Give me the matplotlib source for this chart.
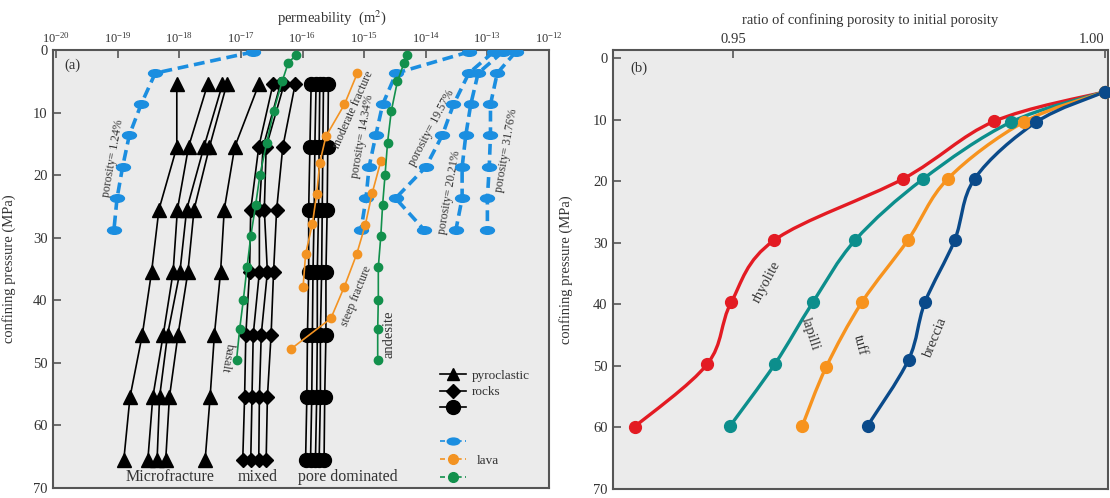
import numpy as np
import matplotlib.pyplot as plt
from matplotlib.path import Path
from matplotlib.patches import PathPatch
from matplotlib.transforms import Affine2D

plt.rcParams['font.family'] = ['Liberation Serif', 'DejaVu Serif']
plt.rcParams['mathtext.fontset'] = 'stix'

# ---------------- (a) permeability vs confining pressure ----------------
# pyroclastic rocks: log10(k) at each confining pressure
p_pyro = [5.5, 15.5, 25.5, 35.5, 45.5, 55.5, 65.5]
micro = [
    [-18.04, -18.04, -18.33, -18.45, -18.60, -18.80, -18.90],
    [-17.54, -17.85, -18.03, -18.10, -18.26, -18.43, -18.51],
    [-17.30, -17.60, -17.88, -17.99, -18.19, -18.32, -18.36],
    [-17.23, -17.51, -17.76, -17.86, -18.02, -18.16, -18.22],
    [-16.71, -17.10, -17.27, -17.33, -17.43, -17.50, -17.58],
]
mixed = [
    [-16.48, -16.71, -16.84, -16.86, -16.92, -16.94, -16.97],
    [-16.36, -16.64, -16.70, -16.70, -16.80, -16.82, -16.84],
    [-16.30, -16.59, -16.62, -16.57, -16.67, -16.70, -16.71],
    [-16.12, -16.32, -16.42, -16.47, -16.51, -16.57, -16.59],
]
pore = [
    [-15.86, -15.88, -15.90, -15.90, -15.92, -15.93, -15.95],
    [-15.78, -15.80, -15.81, -15.83, -15.84, -15.85, -15.87],
    [-15.72, -15.73, -15.74, -15.76, -15.76, -15.77, -15.79],
    [-15.66, -15.67, -15.68, -15.69, -15.71, -15.71, -15.73],
    [-15.58, -15.59, -15.60, -15.62, -15.62, -15.64, -15.65],
]

# lava, blue (porosity series)
p_blue = [0.3, 3.7, 8.7, 13.6, 18.7, 23.7, 28.7]
blue = {
    '1.24':  [-16.80, -18.39, -18.62, -18.81, -18.92, -19.01, -19.06],
    '14.34': [-13.30, -14.48, -14.70, -14.81, -14.92, -14.97, -15.05],
    '19.57': [-12.90, -13.30, -13.55, -13.73, -14.00, -14.49, -14.03],
    '20.21': [-12.75, -13.15, -13.27, -13.35, -13.41, -13.41, -13.51],
    '31.76': [-12.54, -12.84, -12.95, -12.95, -12.97, -13.00, -13.00],
}
# lava, orange
p_moderate = [3.7, 8.7, 13.8, 18.0, 23.0, 27.8, 32.6, 37.8]
k_moderate = [-15.11, -15.32, -15.62, -15.72, -15.77, -15.84, -15.95, -15.99]
p_steep = [17.8, 22.9, 27.9, 32.6, 37.8, 42.9, 47.8]
k_steep = [-14.73, -14.87, -14.98, -15.12, -15.32, -15.54, -16.19]
# lava, green
p_green = [0.8, 2.0, 5.0, 9.8, 14.8, 19.9, 24.7, 29.8, 34.7, 39.9, 44.6, 49.5]
k_basalt = [-16.10, -16.23, -16.33, -16.47, -16.58, -16.69, -16.76, -16.84,
            -16.90, -16.96, -17.02, -17.07]
k_andesite = [-14.30, -14.35, -14.46, -14.56, -14.62, -14.66, -14.70, -14.73,
              -14.77, -14.77, -14.78, -14.78]

# ---------------- (b) porosity ratio vs confining pressure ----------------
rocks = ['rhyolite', 'lapilli', 'tuff', 'breccia']
p_ratio = {
    'rhyolite': [5.5, 10.3, 19.6, 29.6, 39.7, 49.7, 59.9],
    'lapilli':  [5.5, 10.4, 19.7, 29.6, 39.7, 49.7, 59.7],
    'tuff':     [5.5, 10.4, 19.6, 29.6, 39.7, 50.2, 59.7],
    'breccia':  [5.5, 10.4, 19.6, 29.6, 39.7, 49.0, 59.7],
}
ratio = {
    'rhyolite': [1.000, 0.9851, 0.9729, 0.9555, 0.9497, 0.9465, 0.9367],
    'lapilli':  [1.000, 0.9874, 0.9755, 0.9664, 0.9607, 0.9556, 0.9496],
    'tuff':     [1.000, 0.9891, 0.9789, 0.9735, 0.9673, 0.9625, 0.9593],
    'breccia':  [1.000, 0.9908, 0.9825, 0.9798, 0.9758, 0.9736, 0.9681],
}
colors_b = {'rhyolite': '#e31b23', 'lapilli': '#0c8e8c',
            'tuff': '#f7931e', 'breccia': '#0a4a8a'}

BLUE, ORANGE, GREEN = '#1b8ee0', '#f39322', '#12904c'
TXT = '#333333'

fig = plt.figure(figsize=(11.1, 4.98), dpi=100)
ax1 = fig.add_axes([0.0477, 0.0201, 0.4469, 0.8795])
ax2 = fig.add_axes([0.5523, 0.0181, 0.4462, 0.8815])

for ax in (ax1, ax2):
    ax.set_facecolor('#ebebeb')
    for s in ax.spines.values():
        s.set_color('#555555')
        s.set_linewidth(1.5)

# ---- panel a
for row in micro:
    ax1.plot(10.0 ** np.array(row), p_pyro, color='k', lw=1.2,
             marker='^', ms=9.5, zorder=3)
for row in mixed:
    ax1.plot(10.0 ** np.array(row), p_pyro, color='k', lw=1.2,
             marker='D', ms=7, zorder=3)
for row in pore:
    ax1.plot(10.0 ** np.array(row), p_pyro, color='k', lw=1.2,
             marker='o', ms=10, zorder=3)

ellipse = Path.unit_circle().transformed(Affine2D().scale(1.0, 0.55))
for key, vals in blue.items():
    ax1.plot(10.0 ** np.array(vals), p_blue, color=BLUE, lw=2.6,
             dashes=(3, 1.6), marker=ellipse, ms=10, zorder=4)
ax1.plot(10.0 ** np.array(k_moderate), p_moderate, color=ORANGE,
         lw=1.2, marker='o', ms=6, zorder=5)
ax1.plot(10.0 ** np.array(k_steep), p_steep, color=ORANGE, lw=1.2,
         marker='o', ms=6, zorder=5)
ax1.plot(10.0 ** np.array(k_basalt), p_green, color=GREEN, lw=1.2,
         marker='o', ms=6, zorder=5)
ax1.plot(10.0 ** np.array(k_andesite), p_green, color=GREEN, lw=1.2,
         marker='o', ms=6, zorder=5)

ax1.set_xscale('log')
ax1.set_xlim(10 ** -20.05, 10 ** -12.0)
ax1.set_ylim(70, 0)
ax1.set_xticks([10.0 ** e for e in range(-20, -11)])
ax1.xaxis.set_minor_locator(plt.NullLocator())
ax1.xaxis.tick_top()
ax1.set_yticks(range(0, 71, 10))
ax1.tick_params(axis='x', direction='in', length=6, width=1.2, labelsize=9,
                pad=3, colors='#555555', labelcolor=TXT)
ax1.tick_params(axis='y', direction='in', length=6, width=1.2, labelsize=10.5,
                pad=4, colors='#555555', labelcolor=TXT)
ax1.text(0.5625, 1.073, 'permeability  (m$^{2}$)', transform=ax1.transAxes,
         ha='center', va='center', fontsize=10.5, color=TXT)
ax1.set_ylabel('confining pressure (MPa)', fontsize=10.5, color=TXT)
ax1.yaxis.set_label_coords(-0.075, 0.5)
ax1.text(0.04, 0.966, '(a)', transform=ax1.transAxes, fontsize=10.5,
         ha='center', va='center', color=TXT)

lab = dict(fontsize=8.5, color=TXT, ha='center', va='center',
           rotation_mode='anchor')
ax1.text(10 ** -19.07, 17.3, 'porosity= 1.24%', rotation=80, **lab)
ax1.text(10 ** -15.18, 9.5, 'moderate fracture', rotation=66, **lab)
ax1.text(10 ** -15.02, 13.8, 'porosity= 14.34%', rotation=80, **lab)
ax1.text(10 ** -13.91, 12.4, 'porosity= 19.57%', rotation=62, **lab)
ax1.text(10 ** -13.62, 22.8, 'porosity= 20.21%', rotation=80, **lab)
ax1.text(10 ** -12.69, 16.0, 'porosity= 31.76%', rotation=80, **lab)
ax1.text(10 ** -15.12, 39.3, 'steep fracture', rotation=68, **lab)
ax1.text(10 ** -14.60, 45.4, 'andesite', rotation=90, fontsize=10.5,
         color=TXT, ha='center', va='center')
ax1.text(10 ** -17.22, 49.2, 'basalt', rotation=-100, fontsize=9,
         color=TXT, ha='center', va='center')
grp = dict(fontsize=11.5, color=TXT, ha='center', va='center')
ax1.text(10 ** -18.15, 68.2, 'Microfracture', **grp)
ax1.text(10 ** -16.72, 68.2, 'mixed', **grp)
ax1.text(10 ** -15.27, 68.2, 'pore dominated', **grp)

h_tri = plt.Line2D([], [], color='k', lw=1.2, marker='^', ms=9)
h_dia = plt.Line2D([], [], color='k', lw=1.2, marker='D', ms=7)
h_cir = plt.Line2D([], [], color='k', lw=1.2, marker='o', ms=10)
leg1 = ax1.legend([h_tri, h_dia, h_cir], ['pyroclastic', 'rocks', ''],
                  loc='upper left', bbox_to_anchor=(0.78, 0.27), frameon=False,
                  fontsize=9.5, handlelength=2.0, handletextpad=0.4,
                  labelspacing=0.3, borderpad=0, borderaxespad=0, numpoints=1)
for t in leg1.get_texts():
    t.set_color(TXT)
ax1.add_artist(leg1)
h_bl = plt.Line2D([], [], color=BLUE, lw=1.2, dashes=(3, 2), marker=ellipse, ms=9)
h_or = plt.Line2D([], [], color=ORANGE, lw=1.2, dashes=(3, 2), marker='o', ms=7)
h_gr = plt.Line2D([], [], color=GREEN, lw=1.2, dashes=(3, 2), marker='o', ms=7)
leg2 = ax1.legend([h_bl, h_or, h_gr], ['', 'lava', ''],
                  loc='upper left', bbox_to_anchor=(0.78, 0.118), frameon=False,
                  fontsize=9.5, handlelength=2.0, handletextpad=0.8,
                  labelspacing=0.45, borderpad=0, borderaxespad=0, numpoints=1)
for t in leg2.get_texts():
    t.set_color(TXT)


# ---- panel b: smooth connecting curves (Bezier through the measured points)
def smooth_path(xs, ys):
    pts = np.column_stack([xs, ys])
    ext = np.vstack([pts[0], pts, pts[-1]])
    verts = [pts[0]]
    codes = [Path.MOVETO]
    for i in range(len(pts) - 1):
        p0, p1, p2, p3 = ext[i], ext[i + 1], ext[i + 2], ext[i + 3]
        verts += [p1 + (p2 - p0) / 6.0, p2 - (p3 - p1) / 6.0, p2]
        codes += [Path.CURVE4] * 3
    return Path(verts, codes)


for r in rocks:
    c = colors_b[r]
    ax2.add_patch(PathPatch(smooth_path(ratio[r], p_ratio[r]), fc='none',
                            ec=c, lw=2.4, zorder=3))
    ax2.plot(ratio[r], p_ratio[r], ls='none', marker='o', ms=8.5, color=c,
             zorder=4, clip_on=False)

ax2.set_xlim(0.9338, 1.0005)
ax2.set_ylim(70, -1.3)
ax2.set_xticks([0.95, 1.00])
ax2.set_xticklabels(['0.95', '1.00'])
ax2.xaxis.tick_top()
ax2.set_yticks(range(0, 71, 10))
ax2.tick_params(axis='x', direction='in', length=6, width=1.2, labelsize=10.5,
                pad=3, colors='#555555', labelcolor=TXT)
ax2.tick_params(axis='y', direction='in', length=6, width=1.2, labelsize=10.5,
                pad=4, colors='#555555', labelcolor=TXT)
ax2.get_xticklabels()[-1].set_horizontalalignment('right')
ax2.text(0.52, 1.068, 'ratio of confining porosity to initial porosity',
         transform=ax2.transAxes, ha='center', va='center', fontsize=10.5,
         color=TXT)
ax2.set_ylabel('confining pressure (MPa)', fontsize=10.5, color=TXT)
ax2.yaxis.set_label_coords(-0.08, 0.5)
ax2.text(0.052, 0.959, '(b)', transform=ax2.transAxes, fontsize=10.5,
         ha='center', va='center', color=TXT)

blab = dict(fontsize=10.5, color=TXT, ha='center', va='center')
ax2.text(0.9545, 36.3, 'rhyolite', rotation=62, **blab)
ax2.text(0.9604, 44.9, 'lapilli', rotation=-72, **blab)
ax2.text(0.9670, 46.6, 'tuff', rotation=-75, **blab)
ax2.text(0.9773, 45.4, 'breccia', rotation=68, **blab)

fig.savefig('out.png', dpi=100, facecolor='white')
